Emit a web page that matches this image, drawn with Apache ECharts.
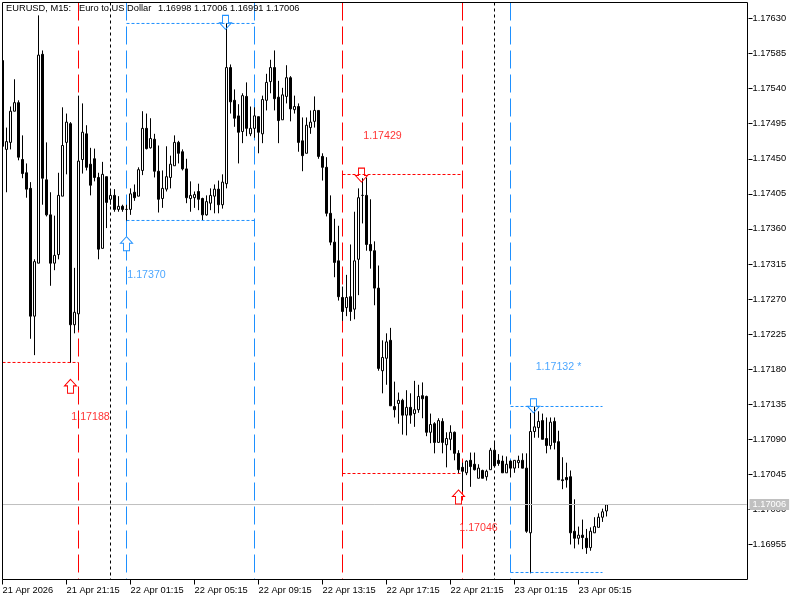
<!DOCTYPE html>
<html>
<head>
<meta charset="utf-8">
<style>html,body{margin:0;padding:0;background:#fff}#c{width:800px;height:600px}</style>
<script src="https://cdn.jsdelivr.net/npm/echarts@6/dist/echarts.min.js"></script>
</head>
<body>
<div id="c"></div>
<script>
const opens = [
1.17576,1.17462,1.17471,1.17511,1.17522,1.17449,1.17432,1.17412,1.17248,1.17316,
1.17584,1.17423,1.17378,1.17316,1.17327,1.17402,1.17471,1.17495,1.17237,1.17251,
1.17449,1.17482,1.17443,1.17450,1.17426,1.17335,1.17427,1.17398,1.17403,1.17385,
1.17389,1.17385,1.17385,1.17407,1.17402,1.17435,1.17489,1.17464,1.17475,1.17434,
1.17399,1.17411,1.17426,1.17441,1.17471,1.17459,1.17437,1.17399,1.17400,1.17408,
1.17399,1.17378,1.17393,1.17402,1.17411,1.17391,1.17418,1.17567,1.17525,1.17505,
1.17485,1.17530,1.17482,1.17489,1.17504,1.17482,1.17525,1.17549,1.17567,1.17529,
1.17500,1.17530,1.17554,1.17513,1.17517,1.17473,1.17457,1.17490,1.17498,1.17512,
1.17453,1.17439,1.17380,1.17343,1.17319,1.17272,1.17259,1.17273,1.17257,1.17321,
1.17403,1.17403,1.17340,1.17332,1.17284,1.17178,1.17194,1.17217,1.17132,1.17136,
1.17140,1.17121,1.17131,1.17123,1.17128,1.17146,1.17145,1.17099,1.17110,1.17086,
1.17113,1.17083,1.17090,1.17099,1.17072,1.17054,1.17047,1.17063,1.17058,1.17040,
1.17050,1.17042,1.17051,1.17076,1.17063,1.17062,1.17047,1.17062,1.17053,1.17060,
1.17063,1.17053,1.16970,1.17100,1.17105,1.17114,1.17091,1.17082,1.17113,1.17087,
1.17038,1.17041,1.17042,1.16972,1.16963,1.16967,1.16963,1.16951,1.16970,1.16977,
1.16990,1.16998];
const closes = [
1.17466,1.17472,1.17511,1.17522,1.17452,1.17431,1.17411,1.17248,1.17318,1.17583,
1.17425,1.17378,1.17316,1.17326,1.17403,1.17467,1.17497,1.17237,1.17253,1.17447,
1.17484,1.17439,1.17416,1.17426,1.17334,1.17430,1.17394,1.17403,1.17385,1.17389,
1.17385,1.17385,1.17405,1.17400,1.17436,1.17489,1.17463,1.17476,1.17434,1.17398,
1.17412,1.17427,1.17443,1.17471,1.17457,1.17437,1.17400,1.17403,1.17404,1.17398,
1.17378,1.17395,1.17403,1.17411,1.17391,1.17420,1.17567,1.17523,1.17502,1.17484,
1.17531,1.17489,1.17489,1.17505,1.17484,1.17526,1.17548,1.17567,1.17527,1.17499,
1.17532,1.17554,1.17514,1.17517,1.17471,1.17454,1.17493,1.17497,1.17512,1.17453,
1.17439,1.17380,1.17343,1.17317,1.17273,1.17254,1.17272,1.17254,1.17319,1.17400,
1.17403,1.17340,1.17332,1.17284,1.17181,1.17195,1.17215,1.17133,1.17128,1.17140,
1.17121,1.17131,1.17121,1.17128,1.17145,1.17142,1.17099,1.17109,1.17086,1.17114,
1.17086,1.17091,1.17099,1.17072,1.17051,1.17049,1.17062,1.17055,1.17051,1.17053,
1.17040,1.17049,1.17076,1.17056,1.17059,1.17047,1.17058,1.17053,1.17063,1.17063,
1.17053,1.16972,1.17100,1.17106,1.17113,1.17090,1.17082,1.17112,1.17086,1.17038,
1.17037,1.17038,1.16970,1.16963,1.16967,1.16964,1.16951,1.16972,1.16978,1.16990,
1.16997,1.17006];
const lows = [
1.17466,1.17407,1.17462,1.17511,1.17448,1.17425,1.17400,1.17219,1.17198,1.17316,
1.17391,1.17376,1.17287,1.17307,1.17321,1.17402,1.17430,1.17188,1.17226,1.17230,
1.17431,1.17435,1.17403,1.17421,1.17321,1.17335,1.17361,1.17391,1.17382,1.17382,
1.17382,1.17370,1.17378,1.17396,1.17402,1.17429,1.17462,1.17463,1.17426,1.17381,
1.17387,1.17408,1.17412,1.17441,1.17444,1.17435,1.17393,1.17382,1.17387,1.17384,
1.17371,1.17377,1.17384,1.17380,1.17380,1.17386,1.17412,1.17508,1.17491,1.17444,
1.17470,1.17479,1.17479,1.17477,1.17457,1.17470,1.17512,1.17534,1.17512,1.17470,
1.17500,1.17521,1.17498,1.17508,1.17459,1.17434,1.17457,1.17482,1.17490,1.17450,
1.17422,1.17376,1.17339,1.17298,1.17268,1.17242,1.17248,1.17242,1.17244,1.17275,
1.17367,1.17332,1.17309,1.17262,1.17178,1.17149,1.17160,1.17133,1.17118,1.17110,
1.17096,1.17095,1.17110,1.17106,1.17124,1.17117,1.17094,1.17085,1.17072,1.17086,
1.17072,1.17054,1.17076,1.17063,1.17046,1.17023,1.17044,1.17029,1.17050,1.17040,
1.17040,1.17037,1.17051,1.17054,1.17056,1.17047,1.17047,1.17041,1.17047,1.17053,
1.17053,1.16970,1.16918,1.17092,1.17092,1.17090,1.17072,1.17077,1.17077,1.17038,
1.17026,1.17028,1.16955,1.16950,1.16955,1.16949,1.16943,1.16947,1.16970,1.16977,
1.16984,1.16991];
const highs = [
1.17576,1.17490,1.17517,1.17552,1.17525,1.17480,1.17444,1.17420,1.17321,1.17634,
1.17589,1.17471,1.17407,1.17377,1.17432,1.17516,1.17508,1.17497,1.17310,1.17531,
1.17521,1.17493,1.17464,1.17463,1.17432,1.17446,1.17427,1.17409,1.17411,1.17402,
1.17391,1.17391,1.17412,1.17417,1.17439,1.17511,1.17508,1.17502,1.17482,1.17467,
1.17435,1.17466,1.17454,1.17480,1.17473,1.17462,1.17450,1.17421,1.17408,1.17418,
1.17400,1.17403,1.17412,1.17417,1.17422,1.17430,1.17624,1.17571,1.17539,1.17520,
1.17534,1.17548,1.17517,1.17516,1.17504,1.17531,1.17559,1.17577,1.17589,1.17550,
1.17541,1.17570,1.17556,1.17531,1.17521,1.17503,1.17503,1.17512,1.17530,1.17512,
1.17457,1.17452,1.17403,1.17373,1.17364,1.17286,1.17301,1.17340,1.17382,1.17412,
1.17425,1.17426,1.17398,1.17344,1.17313,1.17217,1.17226,1.17233,1.17164,1.17150,
1.17142,1.17153,1.17149,1.17165,1.17160,1.17163,1.17146,1.17123,1.17112,1.17117,
1.17117,1.17099,1.17108,1.17100,1.17076,1.17060,1.17063,1.17073,1.17073,1.17058,
1.17051,1.17051,1.17079,1.17088,1.17071,1.17069,1.17068,1.17063,1.17063,1.17069,
1.17072,1.17072,1.17124,1.17132,1.17126,1.17123,1.17118,1.17118,1.17118,1.17101,
1.17067,1.17060,1.17050,1.17013,1.16978,1.16987,1.16975,1.16977,1.16990,1.16995,
1.17001,1.17006];

const xTickLabels = ['21 Apr 2026','21 Apr 21:15','22 Apr 01:15','22 Apr 05:15','22 Apr 09:15','22 Apr 13:15','22 Apr 17:15','22 Apr 21:15','23 Apr 01:15','23 Apr 05:15'];
const xTickIndexes = [0,16,32,48,64,80,96,112,128,144];
const yTicks = [1.16955,1.17,1.17045,1.1709,1.17135,1.1718,1.17225,1.1727,1.17315,1.1736,1.17405,1.1745,1.17495,1.1754,1.17585,1.1763];
const barSlots = 187;
const priceMin = 1.169101, priceMax = 1.176505;
const bidPrice = 1.170063;
const headerParts = ['EURUSD, M15:','Euro to US Dollar','1.16998 1.17006 1.16991 1.17006'];

const redPeriods = [19,85,115];
const bluePeriods = [31,63,127];
const dayLines = [27,123];
// [fromIndex, toIndex, price]
const redLevels = [[0,19,1.171886],[85,115,1.174298],[85,115,1.170461]];
const blueLevels = [[31,63,1.176236],[31,63,1.173708],[127,150,1.171321],[127,150,1.169191]];
const redUpArrows = [[17,1.17158],[114,1.17016]];
const redDownArrows = [[90,1.17429]];
const blueUpArrows = [[31,1.17341]];
const blueDownArrows = [[56,1.17625],[133,1.17133]];
const redTexts = [[95,1.17479,'1.17429'],[22,1.17119,'1.17188'],[119,1.16976,'1.17046']];
const blueTexts = [[36,1.17301,'1.17370'],[139,1.17183,'1.17132 *']];

const RED = '#ff0000', BLUE = '#1e90ff', UI = 'Liberation Sans';
const categories = Array.from({length: barSlots}, (_, i) => {
  const k = xTickIndexes.indexOf(i);
  return k >= 0 ? xTickLabels[k] : '';
});
const ohlc = opens.map((o, i) => [o, closes[i], lows[i], highs[i]]);
const arrow = 'path://M6 0 L12 7 L9 7 L9 15 L3 15 L3 7 L0 7 Z';

function vLine(idx, color, dash) {
  return {type:'line', data:[[idx,priceMax],[idx,priceMin]], showSymbol:false, symbol:'none', silent:true, z:1,
    lineStyle:{color, width:1, type:dash}, animation:false};
}
function hLine(lv, color) {
  return {type:'line', data:[[lv[0],lv[2]],[lv[1],lv[2]]], showSymbol:false, symbol:'none', silent:true, z:3,
    lineStyle:{color, width:1, type:[3,2]}, animation:false};
}
function arrows(data, color, down, fill) {
  return {type:'scatter', data, symbol:arrow, symbolSize:[12,14], symbolRotate:down?180:0, symbolOffset:down?[-1,0]:[0,0], silent:true, z:6,
    itemStyle:{color:fill, borderColor:color, borderWidth:1, opacity:1}, animation:false};
}
function texts(data, color) {
  return {type:'scatter', data:data.map(d=>({value:[d[0],d[1]], name:d[2]})), symbolSize:0, silent:true, z:7,
    label:{show:true, position:'inside', formatter:'{b}', color, fontFamily:UI, fontSize:10.67}, animation:false};
}

const chart = echarts.init(document.getElementById('c'), null, {renderer:'canvas'});
chart.setOption({
  animation:false,
  backgroundColor:'#fff',
  grid:{left:0.5, width:748, top:2.5, height:577, outerBoundsMode:'none'},
  xAxis:{type:'category', data:categories, boundaryGap:true,
    axisLine:{show:false},
    axisTick:{show:true, alignWithLabel:true, length:5, lineStyle:{color:'#000'}, customValues:xTickIndexes},
    axisLabel:{show:true, interval:0, customValues:xTickIndexes, color:'#000', fontFamily:UI, fontSize:9.3, align:'left', margin:6, hideOverlap:false},
    splitLine:{show:false}},
  yAxis:{type:'value', position:'right', min:priceMin, max:priceMax, scale:true,
    axisLine:{show:false},
    axisTick:{show:true, length:4, lineStyle:{color:'#000'}, customValues:yTicks},
    axisLabel:{show:true, customValues:yTicks, margin:4, color:'#000', fontFamily:UI, fontSize:9.3, formatter:v=>v.toFixed(5)},
    splitLine:{show:false}},
  series:[
    ...redPeriods.map(i=>vLine(i,RED,[18,6])),
    ...bluePeriods.map(i=>vLine(i,BLUE,[18,6])),
    ...dayLines.map(i=>vLine(i,'#000',[3,3])),
    {type:'line', data:[[0,bidPrice],[186,bidPrice]], showSymbol:false, symbol:'none', silent:true, z:1,
      lineStyle:{color:'#c0c0c0', width:1}, animation:false,
      markLine:{silent:true, symbol:'none', animation:false, lineStyle:{color:'#c0c0c0', width:1, type:'solid'},
        label:{show:true, position:'end', distance:3, formatter:bidPrice.toFixed(5), color:'#fff', backgroundColor:'#c0c0c0',
          fontFamily:UI, fontSize:9.3, padding:[1,3,1,3]},
        data:[[{coord:[0,bidPrice]},{coord:[186,bidPrice]}]]}},
    {type:'candlestick', data:ohlc, barWidth:2, z:2, silent:true, animation:false,
      itemStyle:{color:'#fff', color0:'#000', borderColor:'#000', borderColor0:'#000', borderColorDoji:'#000', borderWidth:1}},
    ...redLevels.map(l=>hLine(l,RED)),
    ...blueLevels.map(l=>hLine(l,BLUE)),
    arrows(redUpArrows,RED,false,'#fff'),
    arrows(redDownArrows,RED,true,'rgba(255,255,255,0)'),
    arrows(blueUpArrows,BLUE,false,'#fff'),
    arrows(blueDownArrows,BLUE,true,'rgba(255,255,255,0)'),
    texts(redTexts,RED),
    texts(blueTexts,BLUE)
  ],
  graphic:[
    {type:'rect', silent:true, z:90, shape:{x:0,y:0,width:2,height:600}, style:{fill:'#fff'}},
    {type:'rect', silent:true, z:91, shape:{x:2.5,y:2.5,width:745,height:577}, style:{fill:'none',stroke:'#000',lineWidth:1}},
    {type:'text', silent:true, z:92, x:6, y:4, style:{text:headerParts[0], fill:'#000', font:'9.3px '+UI}},
    {type:'text', silent:true, z:92, x:79, y:4, style:{text:headerParts[1], fill:'#000', font:'9.3px '+UI}},
    {type:'text', silent:true, z:92, x:158, y:4, style:{text:headerParts[2], fill:'#000', font:'9.25px '+UI}}
  ]
});
</script>
</body>
</html>
